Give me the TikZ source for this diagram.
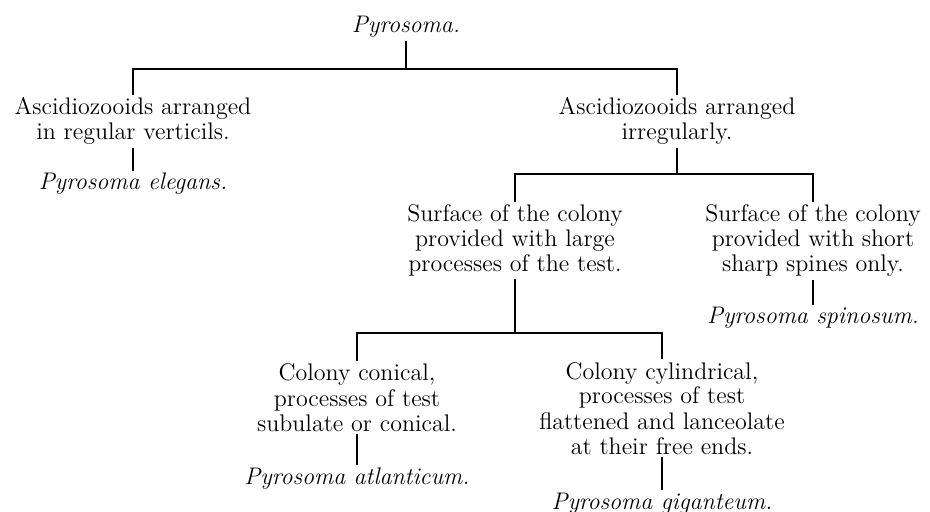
\documentclass[tikz,border=0pt]{standalone}
\usepackage{tikz}

\begin{document}
\begin{tikzpicture}[x=0.5pt,y=-0.5pt]

        \useasboundingbox (0,0) rectangle (930,512);

        % base of a node = baseline of its last line
        \begin{scope}[every node/.style={anchor=base, align=center, inner sep=1.2pt,
            font=\fontsize{12}{12.5}\selectfont}]
          \node (root) at (406,33)  {\itshape Pyrosoma.};
          \node (asc1) at (133,140) {Ascidiozooids arranged\\in regular verticils.};
          \node (eleg) at (133,190) {\itshape Pyrosoma elegans.};
          \node (asc2) at (677,140) {Ascidiozooids arranged\\irregularly.};
          \node (sur1) at (515,272) {Surface of the colony\\provided with large\\processes of the test.};
          \node (sur2) at (813,272) {Surface of the colony\\provided with short\\sharp spines only.};
          \node (spin) at (813,324) {\itshape Pyrosoma spinosum.};
          \node (col1) at (357,431) {Colony conical,\\processes of test\\subulate or conical.};
          \node (atl)  at (357,484) {\itshape Pyrosoma atlanticum.};
          \node (col2) at (662,454) {Colony cylindrical,\\processes of test\\flattened and lanceolate\\at their free ends.};
          \node (gig)  at (662,509) {\itshape Pyrosoma giganteum.};
        \end{scope}

        % joints of the forks
        \coordinate (j1) at (406,69);
        \coordinate (j2) at (677,174);
        \coordinate (j3) at (515,333);

        \begin{scope}[line width=.6pt]
          \draw (root) -- (j1);
          \draw (asc1) |- (j1) -| (asc2);
          \draw (asc2) -- (j2);
          \draw (sur1) |- (j2) -| (sur2);
          \draw (sur1) -- (j3);
          \draw (col1) |- (j3) -| (col2);

          \path (asc1) edge (eleg);
          \path (sur2) edge (spin);
          \path (col1) edge (atl);
          \path (col2) edge (gig);
        \end{scope}

      \end{tikzpicture}
\end{document}
